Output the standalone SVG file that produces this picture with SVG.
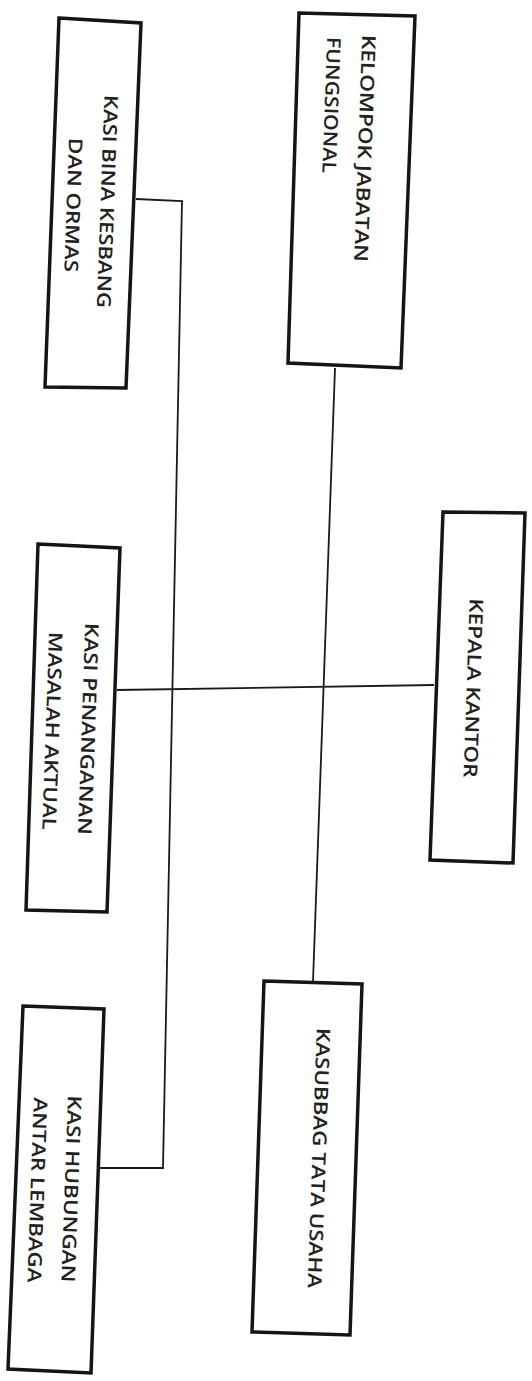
<svg xmlns="http://www.w3.org/2000/svg" width="532" height="1381" viewBox="0 0 532 1381">
<style>
.box{fill:#fff;stroke:#151515;stroke-width:3.5;stroke-linejoin:miter}
.con{fill:none;stroke:#1a1a1a;stroke-width:1.8}
.lbl{font-family:"Open Sans","DejaVu Sans",sans-serif;font-size:19px;font-weight:600;fill:#222}
</style>
<rect width="532" height="1381" fill="#fff"/>
<g id="connectors">
<polyline class="con" points="136,199 182,201 163,1168 100,1168"/>
<line class="con" x1="335" y1="368" x2="313" y2="982"/>
<line class="con" x1="117" y1="690" x2="434" y2="685"/>
</g>
<g id="kasi-bina-kesbang">
<polygon class="box" points="59,18 141,23 126,388 45,387"/>
<text class="lbl" text-anchor="middle" dy="0.36em" textLength="213" lengthAdjust="spacingAndGlyphs" transform="translate(107.5,201.5) rotate(92)">KASI BINA KESBANG</text>
<text class="lbl" text-anchor="middle" dy="0.36em" textLength="134" lengthAdjust="spacingAndGlyphs" transform="translate(73.5,205) rotate(92)">DAN ORMAS</text>
</g>
<g id="kelompok-jabatan-fungsional">
<polygon class="box" points="299,13 415,16 401,368 288,363"/>
<text class="lbl" text-anchor="start" dy="0.36em" textLength="227" lengthAdjust="spacingAndGlyphs" transform="translate(369,35) rotate(92)">KELOMPOK JABATAN</text>
<text class="lbl" text-anchor="start" dy="0.36em" textLength="136" lengthAdjust="spacingAndGlyphs" transform="translate(334,37) rotate(92)">FUNGSIONAL</text>
</g>
<g id="kasi-penanganan-masalah-aktual">
<polygon class="box" points="38,544 120,548 107,912 26,910"/>
<text class="lbl" text-anchor="middle" dy="0.36em" textLength="212" lengthAdjust="spacingAndGlyphs" transform="translate(88.5,729) rotate(92)">KASI PENANGANAN</text>
<text class="lbl" text-anchor="middle" dy="0.36em" textLength="198" lengthAdjust="spacingAndGlyphs" transform="translate(52.5,731) rotate(92)">MASALAH AKTUAL</text>
</g>
<g id="kepala-kantor">
<polygon class="box" points="443,512 525,513 513,863 430,860"/>
<text class="lbl" text-anchor="middle" dy="0.36em" textLength="179" lengthAdjust="spacingAndGlyphs" transform="translate(473.5,688) rotate(92)">KEPALA KANTOR</text>
</g>
<g id="kasi-hubungan-antar-lembaga">
<polygon class="box" points="23,1006 104,1009 91,1373 8,1369"/>
<text class="lbl" text-anchor="middle" dy="0.36em" textLength="187" lengthAdjust="spacingAndGlyphs" transform="translate(71.5,1189) rotate(92)">KASI HUBUNGAN</text>
<text class="lbl" text-anchor="middle" dy="0.36em" textLength="185" lengthAdjust="spacingAndGlyphs" transform="translate(37.5,1190) rotate(92)">ANTAR LEMBAGA</text>
</g>
<g id="kasubbag-tata-usaha">
<polygon class="box" points="264,981 362,984 350,1335 252,1332"/>
<text class="lbl" text-anchor="middle" dy="0.36em" textLength="260" lengthAdjust="spacingAndGlyphs" transform="translate(319,1158) rotate(92)">KASUBBAG TATA USAHA</text>
</g>
</svg>
